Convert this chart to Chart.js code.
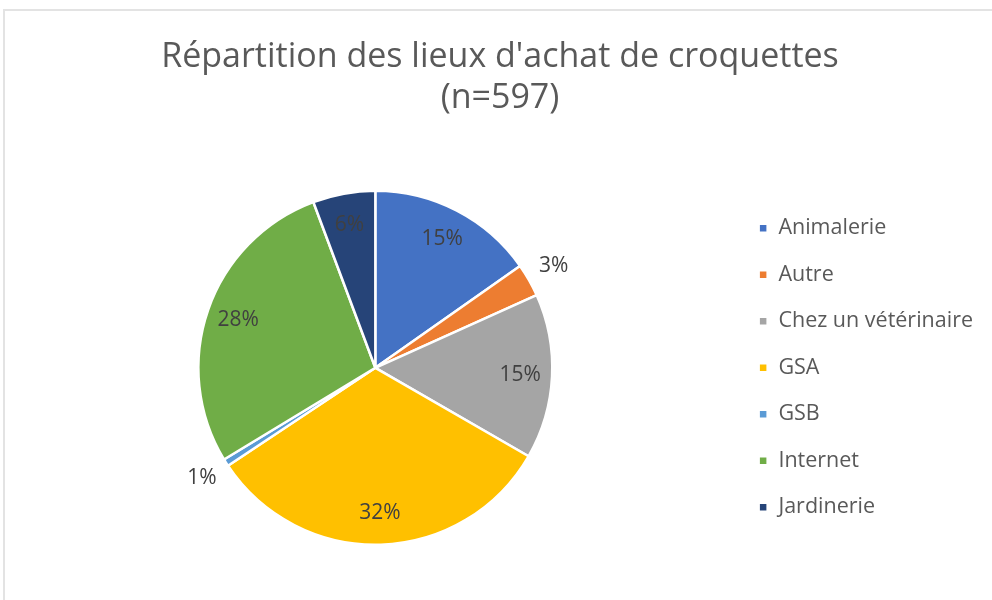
<!DOCTYPE html>
<html>
<head>
<meta charset="utf-8">
<script src="https://cdn.jsdelivr.net/npm/chart.js@4"></script>
<style>
  body { margin: 0; background: #fff; }
  #wrap { position: relative; width: 992px; height: 600px; overflow: hidden; }
  #frame { position: absolute; left: 3px; top: 9px; width: 1200px; height: 800px;
           border-top: 2px solid #e3e3e3; border-left: 2px solid #e3e3e3; }
  canvas { position: absolute; left: 0; top: 0; }
</style>
</head>
<body>
<div id="wrap">
  <div id="frame"></div>
  <canvas id="myChart" width="992" height="600"></canvas>
</div>
<script>
// lieux d'achat, nombre de répondants (n=597)
const lieux = ["Animalerie", "Autre", "Chez un vétérinaire", "GSA", "GSB", "Internet", "Jardinerie"];
const reponses = [91, 18, 90, 193, 4, 167, 34];
const couleurs = ["#4472C4", "#ED7D31", "#A5A5A5", "#FFC000", "#5B9BD5", "#70AD47", "#264478"];
const titre = ["Répartition des lieux d'achat de croquettes", "(n=597)"];

const police = "'Open Sans', sans-serif";

// pourcentages sur les parts (petites parts à l'extérieur)
const etiquettes = {
  id: "etiquettes",
  afterDatasetsDraw(chart) {
    const ctx = chart.ctx;
    const meta = chart.getDatasetMeta(0);
    const total = reponses.reduce((a, b) => a + b, 0);
    ctx.save();
    ctx.font = "21px " + police;
    ctx.fillStyle = "#404040";
    ctx.textAlign = "center";
    ctx.textBaseline = "middle";
    meta.data.forEach((arc, i) => {
      const p = arc.getProps(["x", "y", "startAngle", "endAngle", "outerRadius"], true);
      const pct = reponses[i] / total * 100;
      const mid = (p.startAngle + p.endAngle) / 2;
      const r = pct < 5 ? p.outerRadius * 1.16 : p.outerRadius * 0.82;
      ctx.fillText(Math.round(pct) + "%", p.x + Math.cos(mid) * r, p.y + Math.sin(mid) * r);
    });
    ctx.restore();
  }
};

const ctx = document.getElementById("myChart").getContext("2d");
const chart = new Chart(ctx, {
  type: "pie",
  data: {
    labels: lieux,
    datasets: [{
      data: reponses,
      backgroundColor: couleurs,
      borderColor: "#ffffff",
      borderWidth: 2.5
    }]
  },
  options: {
    responsive: false,
    animation: false,
    layout: { padding: { left: 17, right: 9, top: 0, bottom: 54 } },
    plugins: {
      title: {
        display: true,
        text: titre,
        color: "#595959",
        font: { family: police, size: 34, weight: "normal", lineHeight: 1.2 },
        padding: { top: 37, bottom: 71 }
      },
      legend: {
        position: "right",
        fullSize: false,
        labels: {
          color: "#595959",
          font: { family: police, size: 21.5 },
          boxWidth: 9,
          boxHeight: 9,
          padding: 25
        }
      },
      tooltip: { enabled: false }
    }
  },
  plugins: [etiquettes]
});
</script>
</body>
</html>
